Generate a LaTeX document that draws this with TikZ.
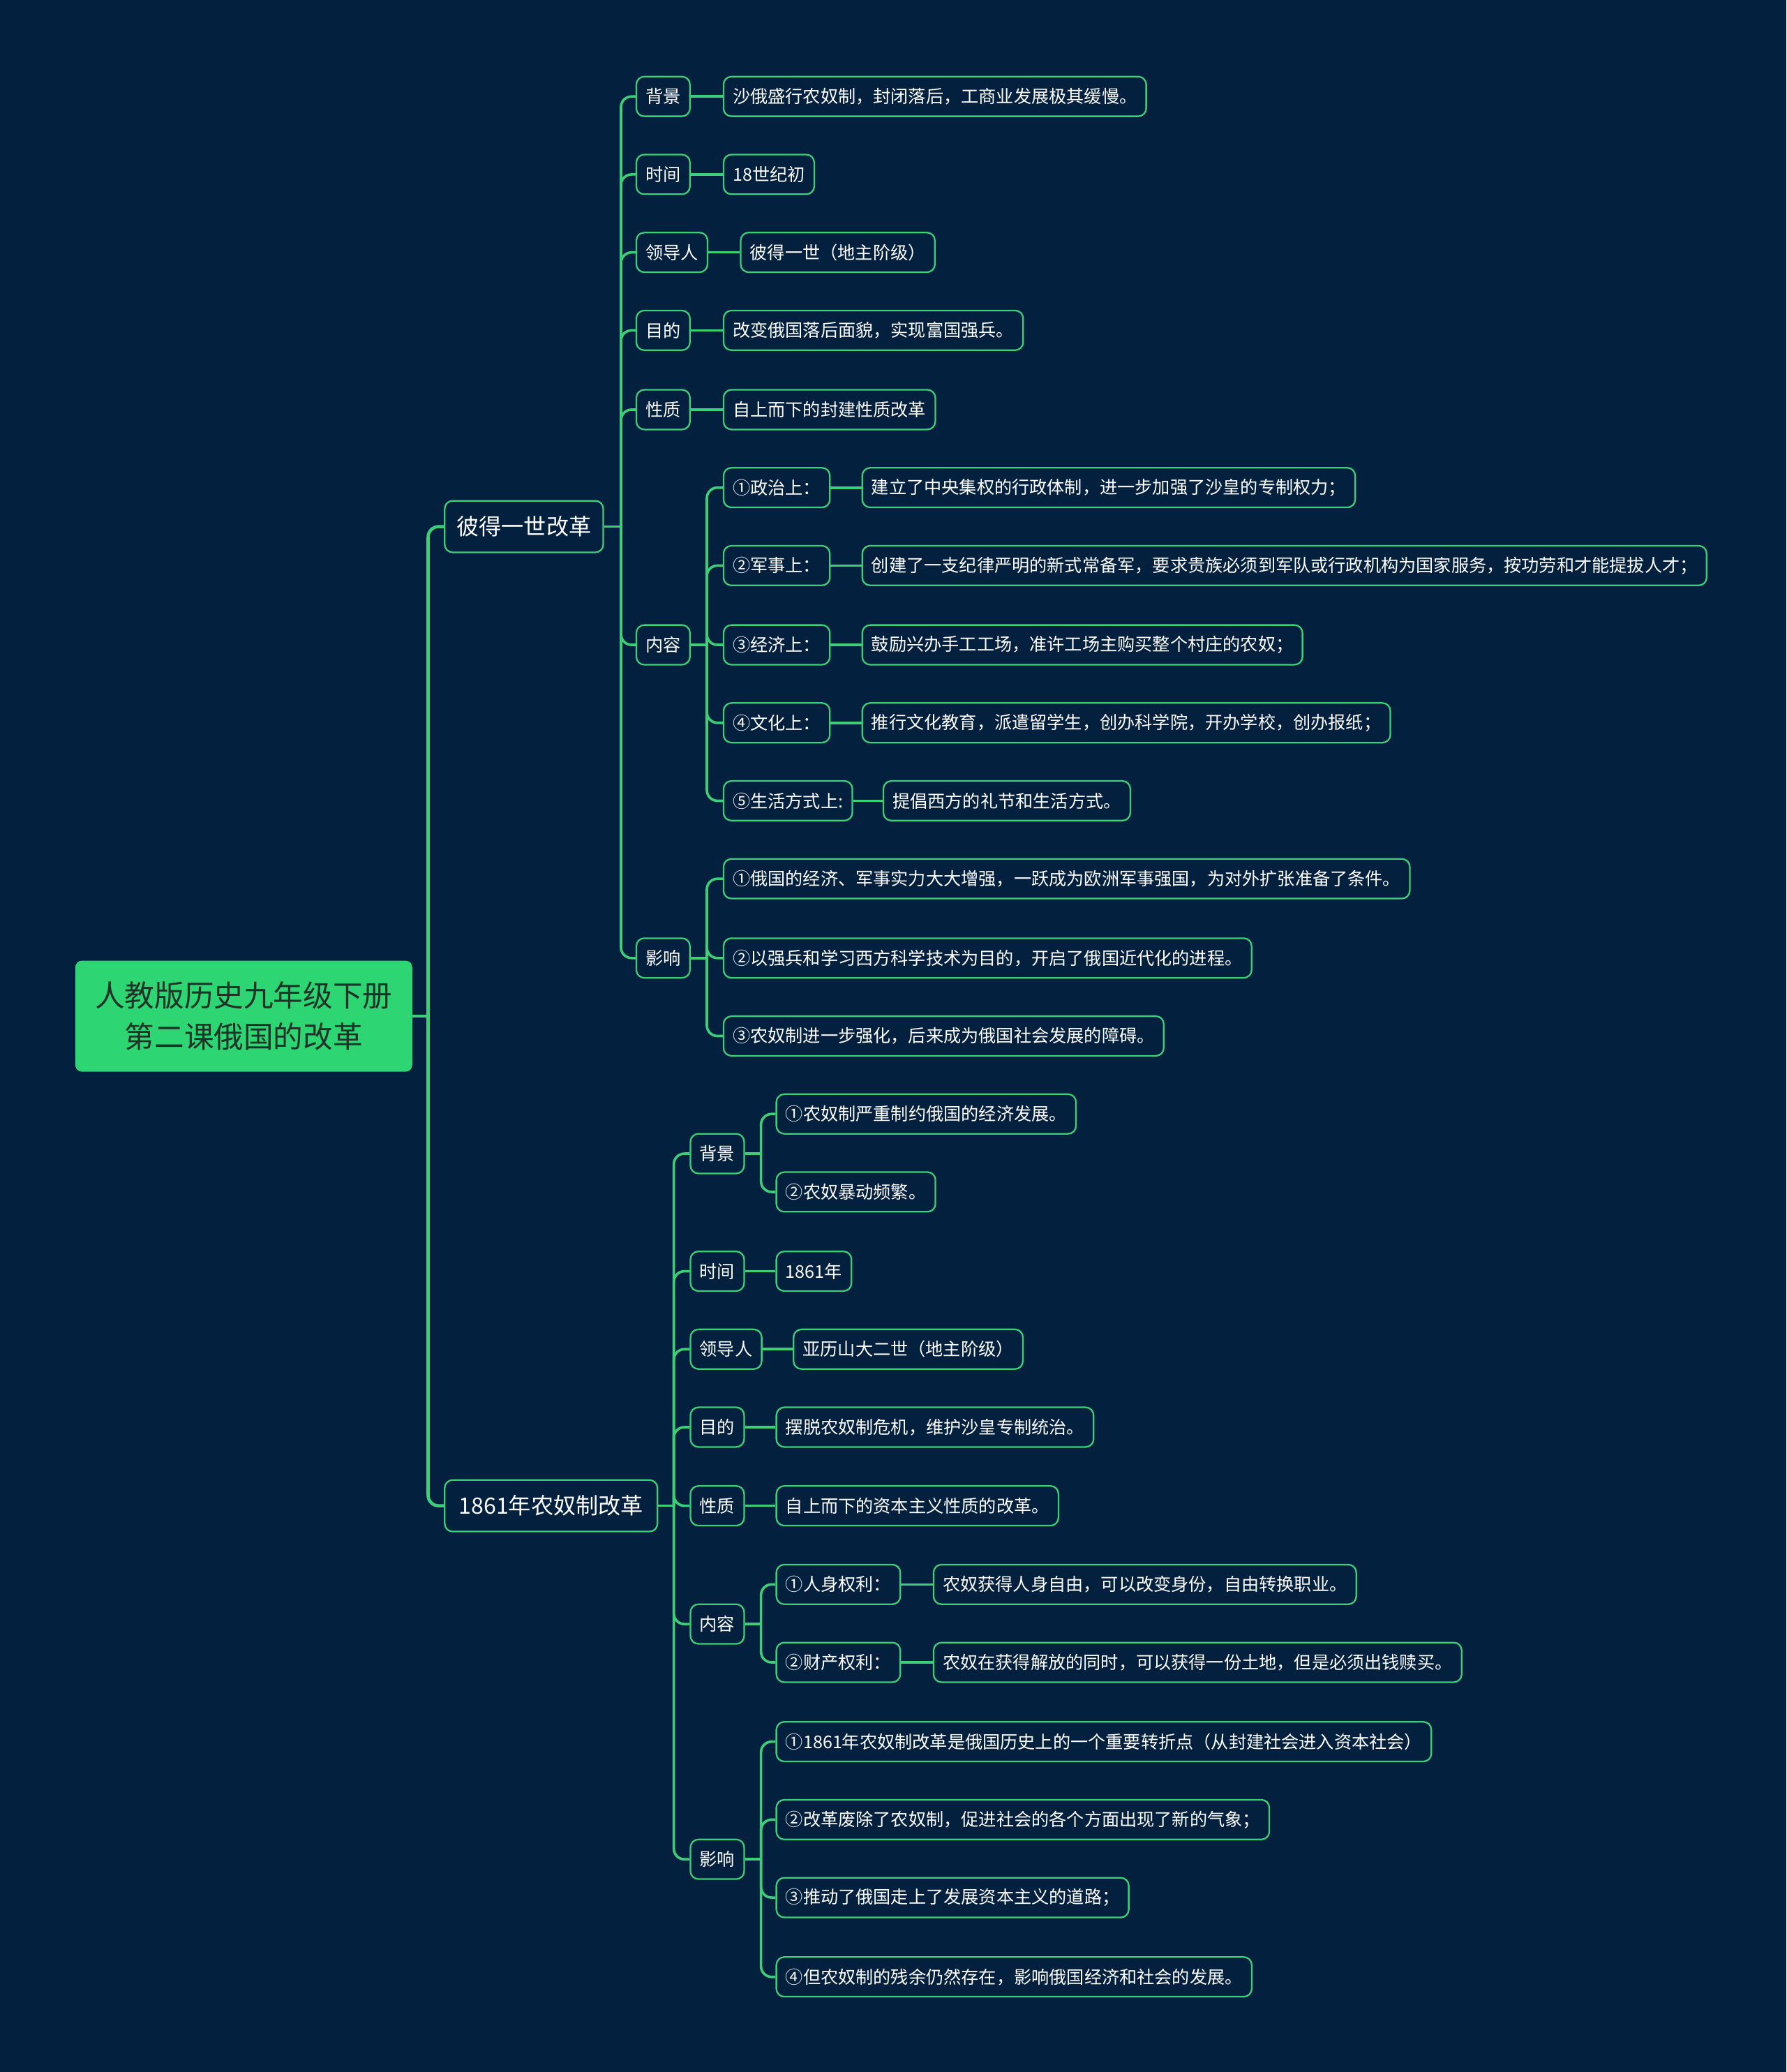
\documentclass[tikz,border=0pt]{standalone}
\usepackage{fontspec}
\setmainfont{Noto Sans CJK SC}
\definecolor{bg}{HTML}{03203E}
\definecolor{lk}{HTML}{3CCF78}
\definecolor{rootfill}{HTML}{2ED573}
\definecolor{roottext}{HTML}{1E3327}
\tikzset{
  leaf/.style={draw=lk, fill=bg, text=white, line width=1.2pt, rounded corners=6pt,
    minimum height=30pt, inner xsep=7pt, inner ysep=0pt, anchor=west,
    font=\fontsize{13.3}{16}\selectfont},
  branch/.style={leaf, minimum height=39pt, inner xsep=9pt, font=\fontsize{17}{20}\selectfont},
  topic/.style={fill=rootfill, text=roottext, rounded corners=5pt, minimum width=255pt,
    minimum height=84pt, align=center, font=\fontsize{22.5}{31}\selectfont},
  link/.style={draw=lk, line width=1.9pt, rounded corners=8pt},
}
\begin{document}
\begin{tikzpicture}[x=1pt, y=-1pt]
\fill[bg] (0,0) rectangle (1352,1568);
\useasboundingbox (0,0) rectangle (1352,1568);

\node[topic] (r) at (184.5,769) {人教版历史九年级下册\\第二课俄国的改革};
\node[branch] (p) at (336,398.5) {彼得一世改革};
\node[branch, minimum width=161pt] (s) at (336,1139.5) {1861年农奴制改革};
\coordinate (rj) at (324,769);
\draw[link, line width=2.4pt] (r.east) -- (rj);
\draw[link, line width=2.4pt] (rj) |- (p.west);
\draw[link, line width=2.4pt] (rj) |- (s.west);

% 彼得一世改革
\node[leaf] (p1) at (481,73) {背景};   \node[leaf] (p1a) at (547,73) {沙俄盛行农奴制，封闭落后，工商业发展极其缓慢。};
\node[leaf] (p2) at (481,132) {时间};  \node[leaf] (p2a) at (547,132) {18世纪初};
\node[leaf] (p3) at (481,191) {领导人}; \node[leaf] (p3a) at (560,191) {彼得一世（地主阶级）};
\node[leaf] (p4) at (481,250) {目的};  \node[leaf] (p4a) at (547,250) {改变俄国落后面貌，实现富国强兵。};
\node[leaf] (p5) at (481,310) {性质};  \node[leaf] (p5a) at (547,310) {自上而下的封建性质改革};
\node[leaf] (p6) at (481,488) {内容};
\node[leaf] (p6a) at (547,369) {①政治上：};   \node[leaf] (p6a1) at (652,369) {建立了中央集权的行政体制，进一步加强了沙皇的专制权力；};
\node[leaf] (p6b) at (547,428) {②军事上：};   \node[leaf] (p6b1) at (652,428) {创建了一支纪律严明的新式常备军，要求贵族必须到军队或行政机构为国家服务，按功劳和才能提拔人才；};
\node[leaf] (p6c) at (547,488) {③经济上：};   \node[leaf] (p6c1) at (652,488) {鼓励兴办手工工场，准许工场主购买整个村庄的农奴；};
\node[leaf] (p6d) at (547,547) {④文化上：};   \node[leaf] (p6d1) at (652,547) {推行文化教育，派遣留学生，创办科学院，开办学校，创办报纸；};
\node[leaf] (p6e) at (547,606) {⑤生活方式上:}; \node[leaf] (p6e1) at (668,606) {提倡西方的礼节和生活方式。};
\node[leaf] (p7) at (481,725) {影响};
\node[leaf] (p7a) at (547,665) {①俄国的经济、军事实力大大增强，一跃成为欧洲军事强国，为对外扩张准备了条件。};
\node[leaf] (p7b) at (547,725) {②以强兵和学习西方科学技术为目的，开启了俄国近代化的进程。};
\node[leaf] (p7c) at (547,784) {③农奴制进一步强化，后来成为俄国社会发展的障碍。};

\coordinate (pj) at (470,398.5);
\draw[link] (p.east) -- (pj);
\foreach \c in {p1,p2,p3,p4,p5,p6,p7} \draw[link] (pj) |- (\c.west);
\foreach \a/\b in {p1/p1a,p2/p2a,p3/p3a,p4/p4a,p5/p5a,p6a/p6a1,p6b/p6b1,p6c/p6c1,p6d/p6d1,p6e/p6e1}
  \draw[link] (\a.east) -- (\b.west);
\coordinate (p6j) at (535,488);
\draw[link] (p6.east) -- (p6j);
\foreach \c in {p6a,p6b,p6c,p6d,p6e} \draw[link] (p6j) |- (\c.west);
\coordinate (p7j) at (535,725);
\draw[link] (p7.east) -- (p7j);
\foreach \c in {p7a,p7b,p7c} \draw[link] (p7j) |- (\c.west);

% 1861年农奴制改革
\node[leaf] (s1) at (522,873) {背景};
\node[leaf] (s1a) at (587,843) {①农奴制严重制约俄国的经济发展。};
\node[leaf] (s1b) at (587,902) {②农奴暴动频繁。};
\node[leaf] (s2) at (522,962) {时间};  \node[leaf] (s2a) at (587,962) {1861年};
\node[leaf] (s3) at (522,1021) {领导人}; \node[leaf] (s3a) at (600,1021) {亚历山大二世（地主阶级）};
\node[leaf] (s4) at (522,1080) {目的};  \node[leaf] (s4a) at (587,1080) {摆脱农奴制危机，维护沙皇专制统治。};
\node[leaf] (s5) at (522,1139.5) {性质};  \node[leaf] (s5a) at (587,1139.5) {自上而下的资本主义性质的改革。};
\node[leaf] (s6) at (522,1229) {内容};
\node[leaf] (s6a) at (587,1199) {①人身权利：}; \node[leaf] (s6a1) at (706,1199) {农奴获得人身自由，可以改变身份，自由转换职业。};
\node[leaf] (s6b) at (587,1258) {②财产权利：}; \node[leaf] (s6b1) at (706,1258) {农奴在获得解放的同时，可以获得一份土地，但是必须出钱赎买。};
\node[leaf] (s7) at (522,1407) {影响};
\node[leaf] (s7a) at (587,1318) {①1861年农奴制改革是俄国历史上的一个重要转折点（从封建社会进入资本社会）};
\node[leaf] (s7b) at (587,1377) {②改革废除了农奴制，促进社会的各个方面出现了新的气象；};
\node[leaf] (s7c) at (587,1436) {③推动了俄国走上了发展资本主义的道路；};
\node[leaf] (s7d) at (587,1496) {④但农奴制的残余仍然存在，影响俄国经济和社会的发展。};

\coordinate (sj) at (510,1139.5);
\draw[link] (s.east) -- (sj);
\foreach \c in {s1,s2,s3,s4,s5,s6,s7} \draw[link] (sj) |- (\c.west);
\foreach \a/\b in {s2/s2a,s3/s3a,s4/s4a,s5/s5a,s6a/s6a1,s6b/s6b1}
  \draw[link] (\a.east) -- (\b.west);
\coordinate (s1j) at (576,873);
\draw[link] (s1.east) -- (s1j);
\foreach \c in {s1a,s1b} \draw[link] (s1j) |- (\c.west);
\coordinate (s6j) at (576,1229);
\draw[link] (s6.east) -- (s6j);
\foreach \c in {s6a,s6b} \draw[link] (s6j) |- (\c.west);
\coordinate (s7j) at (576,1407);
\draw[link] (s7.east) -- (s7j);
\foreach \c in {s7a,s7b,s7c,s7d} \draw[link] (s7j) |- (\c.west);
\end{tikzpicture}
\end{document}
